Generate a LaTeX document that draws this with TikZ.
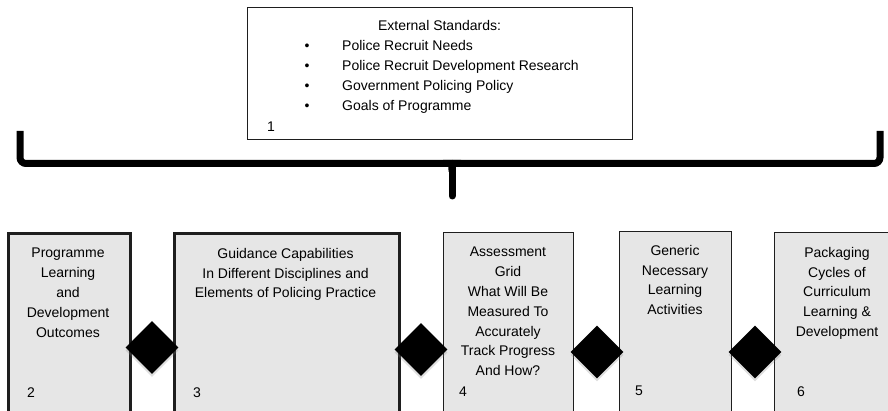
\documentclass[tikz,border=0pt]{standalone}
\usepackage{fontspec}
\setmainfont{Liberation Sans}
\usetikzlibrary{shapes.geometric,shadows}
\definecolor{boxfill}{RGB}{230,230,230}
\definecolor{edge}{RGB}{30,30,30}
\tikzset{
  bx/.style={draw=edge, fill=boxfill, rectangle, inner sep=0pt, anchor=north west},
  thinbx/.style={bx, line width=1.4pt},
  thickbx/.style={bx, line width=2.6pt},
  txt/.style={font=\fontsize{14}{19.8}\selectfont, align=center, inner sep=0pt, anchor=north},
  num/.style={font=\fontsize{14}{19.8}\selectfont, inner sep=0pt, anchor=base west},
  dia/.style={diamond, fill=black, inner sep=0pt, minimum width=53pt, minimum height=53pt,
    drop shadow={opacity=0.25, shadow xshift=0pt, shadow yshift=-3pt}},
  bracepath/.style={line width=7pt, draw=black, rounded corners=6pt}
}
\begin{document}
\begin{tikzpicture}[x=1pt,y=-1pt]
\useasboundingbox (0,0) rectangle (888,411);
\clip (0,0) rectangle (888,411);
% top box
\node[bx, fill=white, line width=1.4pt, minimum width=385pt, minimum height=132pt] (top) at (247,7) {};
\node[txt] (title) at (439.5,20) {External Standards:};
\node[txt, anchor=north west, align=left, font=\fontsize{14}{20}\selectfont] (list) at (304.5,40)
  {\makebox[37.5pt][l]{•}Police Recruit Needs\\
   \makebox[37.5pt][l]{•}Police Recruit Development Research\\
   \makebox[37.5pt][l]{•}Government Policing Policy\\
   \makebox[37.5pt][l]{•}Goals of Programme};
\node[num] (n1) at (267,132) {1};
% brace
\coordinate (bl) at (20,131);
\coordinate (br) at (880,131);
\coordinate (bm) at (452,163.5);
\coordinate (btip) at (452,196);
\draw[bracepath] (bl) |- (bm);
\draw[bracepath] (br) |- (bm);
\draw[line width=7pt, line cap=round] (bm) -- (btip);
\fill (443,160) .. controls (449,160) and (448.5,167) .. (448.5,172) -- (455.5,172) .. controls (455.5,167) and (455,160) .. (461,160) -- cycle;
% bottom boxes
\node[thickbx, minimum width=122pt, minimum height=190pt] (b2) at (7,232) {};
\node[thickbx, minimum width=225pt, minimum height=190pt] (b3) at (173,232) {};
\node[thinbx, minimum width=130pt, minimum height=190pt] (b4) at (443,232) {};
\node[thinbx, minimum width=112pt, minimum height=190pt] (b5) at (619,231) {};
\node[thinbx, minimum width=126pt, minimum height=190pt] (b6) at (774,232) {};
% texts
\node[txt] (t2) at (68,248) {Programme\\Learning\\and\\Development\\Outcomes};
\node[txt] (t3) at (285.5,248) {Guidance Capabilities\\In Different Disciplines and\\Elements of Policing Practice};
\node[txt] (t4) at (508,247) {Assessment\\Grid\\What Will Be\\Measured To\\Accurately\\Track Progress\\And How?};
\node[txt] (t5) at (675,245) {Generic\\Necessary\\Learning\\Activities};
\node[txt] (t6) at (837,247) {Packaging\\Cycles of\\Curriculum\\Learning \&\\Development};
\node[num] (n2) at (27,397) {2};
\node[num] (n3) at (193,397) {3};
\node[num] (n4) at (459,396) {4};
\node[num] (n5) at (635,395) {5};
\node[num] (n6) at (797,396) {6};
% diamonds
\node[dia] (d1) at (152,347.5) {};
\node[dia] (d2) at (421,349.5) {};
\node[dia] (d3) at (597,352) {};
\node[dia] (d4) at (755,352) {};
\end{tikzpicture}
\end{document}
